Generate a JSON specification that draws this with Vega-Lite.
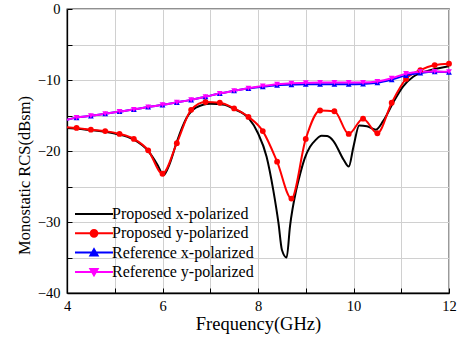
{
  "$schema": "https://vega.github.io/schema/vega-lite/v6.json",
  "width": 382,
  "height": 284,
  "autosize": {"type": "none"},
  "padding": {"left": 67, "top": 9, "right": 13, "bottom": 52},
  "config": {
    "font": "Liberation Serif",
    "view": {"stroke": "#222222", "strokeWidth": 1.3},
    "axis": {
      "labelFont": "Liberation Serif",
      "labelFontSize": 14.5,
      "labelColor": "#000000",
      "titleFont": "Liberation Serif",
      "titleFontSize": 18.5,
      "titleFontWeight": "normal",
      "titleColor": "#000000",
      "domainColor": "#000000",
      "domainWidth": 1.3,
      "tickColor": "#000000",
      "tickWidth": 1,
      "tickSize": -5,
      "gridColor": "#d0d0d0",
      "gridWidth": 1,
      "gridOpacity": 1
    }
  },
  "data": {
    "values": [
      {"series": "Proposed x-polarized", "f": 4.0, "rcs": -16.75},
      {"series": "Proposed x-polarized", "f": 4.5, "rcs": -17.05},
      {"series": "Proposed x-polarized", "f": 5.0, "rcs": -17.55},
      {"series": "Proposed x-polarized", "f": 5.4, "rcs": -18.4},
      {"series": "Proposed x-polarized", "f": 5.7, "rcs": -20.0},
      {"series": "Proposed x-polarized", "f": 5.9, "rcs": -22.0},
      {"series": "Proposed x-polarized", "f": 6.02, "rcs": -23.4},
      {"series": "Proposed x-polarized", "f": 6.15, "rcs": -21.8},
      {"series": "Proposed x-polarized", "f": 6.3, "rcs": -18.7},
      {"series": "Proposed x-polarized", "f": 6.5, "rcs": -15.4},
      {"series": "Proposed x-polarized", "f": 6.7, "rcs": -13.9},
      {"series": "Proposed x-polarized", "f": 7.0, "rcs": -13.35},
      {"series": "Proposed x-polarized", "f": 7.3, "rcs": -13.5},
      {"series": "Proposed x-polarized", "f": 7.5, "rcs": -14.1},
      {"series": "Proposed x-polarized", "f": 7.8, "rcs": -15.35},
      {"series": "Proposed x-polarized", "f": 8.0, "rcs": -17.5},
      {"series": "Proposed x-polarized", "f": 8.18, "rcs": -20.8},
      {"series": "Proposed x-polarized", "f": 8.32, "rcs": -25.5},
      {"series": "Proposed x-polarized", "f": 8.43, "rcs": -30.2},
      {"series": "Proposed x-polarized", "f": 8.5, "rcs": -33.9},
      {"series": "Proposed x-polarized", "f": 8.6, "rcs": -35.0},
      {"series": "Proposed x-polarized", "f": 8.67, "rcs": -30.6},
      {"series": "Proposed x-polarized", "f": 8.8, "rcs": -25.5},
      {"series": "Proposed x-polarized", "f": 8.88, "rcs": -23.3},
      {"series": "Proposed x-polarized", "f": 8.98, "rcs": -21.0},
      {"series": "Proposed x-polarized", "f": 9.09, "rcs": -19.4},
      {"series": "Proposed x-polarized", "f": 9.2, "rcs": -18.5},
      {"series": "Proposed x-polarized", "f": 9.33, "rcs": -17.85},
      {"series": "Proposed x-polarized", "f": 9.45, "rcs": -17.9},
      {"series": "Proposed x-polarized", "f": 9.58, "rcs": -18.6},
      {"series": "Proposed x-polarized", "f": 9.79, "rcs": -21.2},
      {"series": "Proposed x-polarized", "f": 9.9, "rcs": -22.2},
      {"series": "Proposed x-polarized", "f": 10.0, "rcs": -19.35},
      {"series": "Proposed x-polarized", "f": 10.12, "rcs": -16.4},
      {"series": "Proposed x-polarized", "f": 10.28, "rcs": -16.5},
      {"series": "Proposed x-polarized", "f": 10.47, "rcs": -17.0},
      {"series": "Proposed x-polarized", "f": 10.62, "rcs": -15.8},
      {"series": "Proposed x-polarized", "f": 10.83, "rcs": -13.2},
      {"series": "Proposed x-polarized", "f": 11.04, "rcs": -10.9},
      {"series": "Proposed x-polarized", "f": 11.25, "rcs": -9.55},
      {"series": "Proposed x-polarized", "f": 11.53, "rcs": -8.75},
      {"series": "Proposed x-polarized", "f": 11.81, "rcs": -8.3},
      {"series": "Proposed x-polarized", "f": 12.0, "rcs": -8.05},

      {"series": "Proposed y-polarized", "f": 4.0, "rcs": -16.65},
      {"series": "Proposed y-polarized", "f": 4.2, "rcs": -16.75},
      {"series": "Proposed y-polarized", "f": 4.5, "rcs": -17.0},
      {"series": "Proposed y-polarized", "f": 4.8, "rcs": -17.2},
      {"series": "Proposed y-polarized", "f": 5.1, "rcs": -17.6},
      {"series": "Proposed y-polarized", "f": 5.4, "rcs": -18.3},
      {"series": "Proposed y-polarized", "f": 5.7, "rcs": -19.9},
      {"series": "Proposed y-polarized", "f": 6.0, "rcs": -23.2},
      {"series": "Proposed y-polarized", "f": 6.3, "rcs": -18.9},
      {"series": "Proposed y-polarized", "f": 6.6, "rcs": -14.2},
      {"series": "Proposed y-polarized", "f": 6.9, "rcs": -13.1},
      {"series": "Proposed y-polarized", "f": 7.2, "rcs": -13.2},
      {"series": "Proposed y-polarized", "f": 7.5, "rcs": -14.0},
      {"series": "Proposed y-polarized", "f": 7.8, "rcs": -15.2},
      {"series": "Proposed y-polarized", "f": 8.1, "rcs": -17.2},
      {"series": "Proposed y-polarized", "f": 8.4, "rcs": -21.5},
      {"series": "Proposed y-polarized", "f": 8.7, "rcs": -26.7},
      {"series": "Proposed y-polarized", "f": 9.0, "rcs": -18.3},
      {"series": "Proposed y-polarized", "f": 9.3, "rcs": -14.3},
      {"series": "Proposed y-polarized", "f": 9.6, "rcs": -14.4},
      {"series": "Proposed y-polarized", "f": 9.9, "rcs": -17.6},
      {"series": "Proposed y-polarized", "f": 10.2, "rcs": -15.45},
      {"series": "Proposed y-polarized", "f": 10.5, "rcs": -17.5},
      {"series": "Proposed y-polarized", "f": 10.8, "rcs": -13.2},
      {"series": "Proposed y-polarized", "f": 11.1, "rcs": -9.85},
      {"series": "Proposed y-polarized", "f": 11.4, "rcs": -8.6},
      {"series": "Proposed y-polarized", "f": 11.7, "rcs": -7.9},
      {"series": "Proposed y-polarized", "f": 12.0, "rcs": -7.7},

      {"series": "Reference x-polarized", "f": 4.0, "rcs": -15.6},
      {"series": "Reference x-polarized", "f": 4.2, "rcs": -15.3},
      {"series": "Reference x-polarized", "f": 4.5, "rcs": -15.05},
      {"series": "Reference x-polarized", "f": 4.8, "rcs": -14.75},
      {"series": "Reference x-polarized", "f": 5.1, "rcs": -14.45},
      {"series": "Reference x-polarized", "f": 5.4, "rcs": -14.15},
      {"series": "Reference x-polarized", "f": 5.7, "rcs": -13.8},
      {"series": "Reference x-polarized", "f": 6.0, "rcs": -13.5},
      {"series": "Reference x-polarized", "f": 6.3, "rcs": -13.15},
      {"series": "Reference x-polarized", "f": 6.6, "rcs": -12.8},
      {"series": "Reference x-polarized", "f": 6.9, "rcs": -12.35},
      {"series": "Reference x-polarized", "f": 7.2, "rcs": -11.9},
      {"series": "Reference x-polarized", "f": 7.5, "rcs": -11.5},
      {"series": "Reference x-polarized", "f": 7.8, "rcs": -11.2},
      {"series": "Reference x-polarized", "f": 8.1, "rcs": -10.95},
      {"series": "Reference x-polarized", "f": 8.4, "rcs": -10.75},
      {"series": "Reference x-polarized", "f": 8.7, "rcs": -10.65},
      {"series": "Reference x-polarized", "f": 9.0, "rcs": -10.6},
      {"series": "Reference x-polarized", "f": 9.3, "rcs": -10.6},
      {"series": "Reference x-polarized", "f": 9.6, "rcs": -10.6},
      {"series": "Reference x-polarized", "f": 9.9, "rcs": -10.6},
      {"series": "Reference x-polarized", "f": 10.2, "rcs": -10.55},
      {"series": "Reference x-polarized", "f": 10.5, "rcs": -10.4},
      {"series": "Reference x-polarized", "f": 10.8, "rcs": -9.95},
      {"series": "Reference x-polarized", "f": 11.1, "rcs": -9.35},
      {"series": "Reference x-polarized", "f": 11.4, "rcs": -9.0},
      {"series": "Reference x-polarized", "f": 11.7, "rcs": -8.85},
      {"series": "Reference x-polarized", "f": 12.0, "rcs": -8.9},

      {"series": "Reference y-polarized", "f": 4.0, "rcs": -15.6},
      {"series": "Reference y-polarized", "f": 4.2, "rcs": -15.3},
      {"series": "Reference y-polarized", "f": 4.5, "rcs": -15.05},
      {"series": "Reference y-polarized", "f": 4.8, "rcs": -14.75},
      {"series": "Reference y-polarized", "f": 5.1, "rcs": -14.45},
      {"series": "Reference y-polarized", "f": 5.4, "rcs": -14.15},
      {"series": "Reference y-polarized", "f": 5.7, "rcs": -13.8},
      {"series": "Reference y-polarized", "f": 6.0, "rcs": -13.5},
      {"series": "Reference y-polarized", "f": 6.3, "rcs": -13.15},
      {"series": "Reference y-polarized", "f": 6.6, "rcs": -12.8},
      {"series": "Reference y-polarized", "f": 6.9, "rcs": -12.35},
      {"series": "Reference y-polarized", "f": 7.2, "rcs": -11.9},
      {"series": "Reference y-polarized", "f": 7.5, "rcs": -11.5},
      {"series": "Reference y-polarized", "f": 7.8, "rcs": -11.15},
      {"series": "Reference y-polarized", "f": 8.1, "rcs": -10.85},
      {"series": "Reference y-polarized", "f": 8.4, "rcs": -10.6},
      {"series": "Reference y-polarized", "f": 8.7, "rcs": -10.45},
      {"series": "Reference y-polarized", "f": 9.0, "rcs": -10.4},
      {"series": "Reference y-polarized", "f": 9.3, "rcs": -10.35},
      {"series": "Reference y-polarized", "f": 9.6, "rcs": -10.35},
      {"series": "Reference y-polarized", "f": 9.9, "rcs": -10.35},
      {"series": "Reference y-polarized", "f": 10.2, "rcs": -10.35},
      {"series": "Reference y-polarized", "f": 10.5, "rcs": -10.2},
      {"series": "Reference y-polarized", "f": 10.8, "rcs": -9.75},
      {"series": "Reference y-polarized", "f": 11.1, "rcs": -9.1},
      {"series": "Reference y-polarized", "f": 11.4, "rcs": -8.85},
      {"series": "Reference y-polarized", "f": 11.7, "rcs": -8.8},
      {"series": "Reference y-polarized", "f": 12.0, "rcs": -8.85}
    ]
  },
  "encoding": {
    "x": {
      "field": "f",
      "type": "quantitative",
      "scale": {"domain": [4, 12], "nice": false, "zero": false},
      "axis": {
        "title": "Frequency(GHz)",
        "values": [4, 5, 6, 7, 8, 9, 10, 11, 12],
        "labelExpr": "datum.value % 2 === 0 ? datum.label : ''",
        "labelPadding": 11,
        "labelFlush": false,
        "titleY": 36,
        "titleBaseline": "alphabetic"
      }
    },
    "y": {
      "field": "rcs",
      "type": "quantitative",
      "scale": {"domain": [-40, 0], "nice": false, "zero": false},
      "axis": {
        "title": "Monostatic RCS(dBsm)",
        "values": [-40, -35, -30, -25, -20, -15, -10, -5, 0],
        "labelExpr": "datum.value % 10 === 0 ? datum.label : ''",
        "labelPadding": 12,
        "labelFlush": false,
        "titleFontSize": 16.5,
        "titleX": -51,
        "titleY": 166,
        "titleBaseline": "top"
      }
    },
    "color": {
      "field": "series",
      "type": "nominal",
      "scale": {
        "domain": ["Proposed x-polarized", "Proposed y-polarized", "Reference x-polarized", "Reference y-polarized"],
        "range": ["#000000", "#ff0000", "#0000ff", "#ff00ff"]
      },
      "legend": {
        "title": null,
        "orient": "none",
        "legendX": 19,
        "legendY": 197,
        "padding": 0,
        "labelFont": "Liberation Serif",
        "labelFontSize": 16,
        "labelColor": "#000000",
        "labelOffset": 10,
        "rowPadding": 3.3,
        "symbolSize": 64,
        "encode": {
          "symbols": {
            "update": {
              "shape": {"signal": "datum.value === 'Proposed x-polarized' ? 'M-4.75,0H4.75' : datum.value === 'Proposed y-polarized' ? 'M-4.75,0H4.75M0.85,0A0.85,0.85,0,1,1,-0.85,0A0.85,0.85,0,1,1,0.85,0Z' : datum.value === 'Reference x-polarized' ? 'M-4.75,0H4.75M0,-0.85L0.9,0.7L-0.9,0.7Z' : 'M-4.75,0H4.75M0,0.85L0.9,-0.7L-0.9,-0.7Z'"},
              "size": {"value": 64},
              "strokeWidth": {"value": 2},
              "fill": {"scale": "color", "field": "value"},
              "stroke": {"scale": "color", "field": "value"},
              "fillOpacity": {"value": 1},
              "opacity": {"value": 1}
            }
          }
        }
      }
    }
  },
  "layer": [
    {
      "mark": {"type": "line", "interpolate": "monotone", "strokeWidth": 2, "clip": true}
    },
    {
      "transform": [
        {"filter": "datum.series !== 'Proposed x-polarized' && datum.f > 4.1"}
      ],
      "mark": {"type": "point", "filled": true, "opacity": 1, "size": 34, "clip": false},
      "encoding": {
        "shape": {
          "field": "series",
          "type": "nominal",
          "scale": {
            "domain": ["Proposed y-polarized", "Reference x-polarized", "Reference y-polarized"],
            "range": ["circle", "triangle-up", "triangle-down"]
          },
          "legend": null
        }
      }
    }
  ]
}
